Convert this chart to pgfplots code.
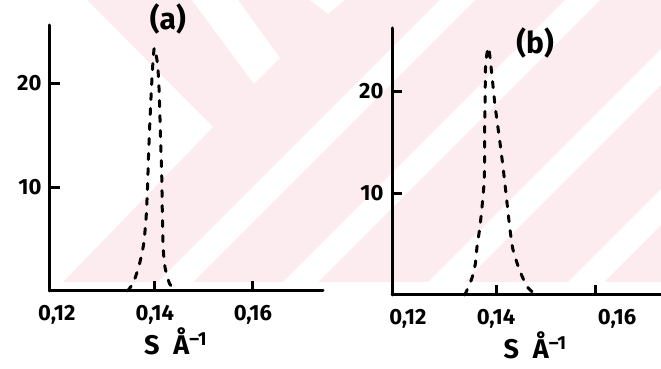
\documentclass[border=0pt]{standalone}
\usepackage{pgfplots}
\pgfplotsset{compat=1.18}
\usepackage{fontspec}
\setmainfont{Fira Sans}
\definecolor{wm}{RGB}{253,236,239}
\pgfplotsset{
  handplot/.style={
    scale only axis, clip=false,
    axis lines*=left,
    axis line style={line width=3pt, line cap=round, black},
    tick style={line width=3pt, black},
    major tick length=10pt, tick align=inside,
    scaled x ticks=false, scaled y ticks=false,
    ymin=0,
    ytick={10,20}, yticklabels={10,20},
    xtick={0.14,0.16},
    extra x ticks={0.12},
    extra x tick style={major tick length=0pt},
    ticklabel style={font=\bfseries\fontsize{22}{22}\selectfont},
    xticklabel style={yshift=-11pt},
    yticklabel style={xshift=-5pt},
    title style={anchor=center, font=\bfseries\fontsize{30}{30}\selectfont},
    xlabel style={anchor=center, font=\bfseries\fontsize{27}{27}\selectfont},
  },
  peak/.style={black, line width=3pt, line cap=round, dash pattern=on 6pt off 9pt, smooth, tension=0.4},
}
\begin{document}
\begin{tikzpicture}[x=1pt,y=1pt]
\useasboundingbox (0,0) rectangle (661,369);
% faint watermark of the scan
\begin{scope}[shift={(0pt,369pt)}, y=-1pt]
  \begin{scope}
    \clip (0,0) rectangle (661,282);
    \fill[wm] (0,0) rectangle (661,282);
    \fill[white] (0,0) -- (87,0) -- (213,127) -- (63,282) -- (0,282) -- cycle;
    \fill[white] (192,0) -- (238,0) -- (280,58) -- (254,84) -- cycle;
    \fill[white] (310,0) -- (345,0) -- (328,14) -- cycle;
    \fill[white] (440,0) -- (475,0) -- (193,282) -- (158,282) -- cycle;
    \fill[white] (565,0) -- (600,0) -- (318,282) -- (283,282) -- cycle;
    \fill[white] (710,0) -- (746,0) -- (464,282) -- (428,282) -- cycle;
    \fill[white] (850,0) -- (886,0) -- (604,282) -- (568,282) -- cycle;
  \end{scope}
\end{scope}

% panel (a)
\begin{axis}[handplot,
  at={(50pt,78pt)}, anchor=south west,
  width=273pt, height=266pt,
  xmin=0.1186, xmax=0.1743, ymax=25.6,
  xticklabels={0{,}14,0{,}16},
  extra x tick labels={0{,}12},
  title={(a)}, title style={at={(0.432,1.0)}},
  xlabel={S\hspace{14pt}Å\textsuperscript{–1}}, xlabel style={at={(0.46,-0.19)}},
]
\addplot[peak] coordinates {
  (0.1344,0) (0.1356,0.8) (0.1368,2.5) (0.1377,4.5) (0.1382,7) (0.1385,10)
  (0.1387,13) (0.1390,16.5) (0.1393,19.5) (0.1396,22) (0.1399,23.4)
  (0.1405,22) (0.1408,20) (0.1410,17.3) (0.1412,14) (0.1414,11) (0.1415,8)
  (0.1416,5.8) (0.1417,4) (0.1421,2.2) (0.1430,0.7) (0.1443,0)
};
\end{axis}

% panel (b)
\begin{axis}[handplot,
  at={(392pt,74pt)}, anchor=south west,
  width=269pt, height=267pt,
  xmin=0.119, xmax=0.1733, ymax=26.2,
  xticklabels={0{,}14,\hspace*{44pt}0{,}16},
  extra x tick labels={\hspace*{22pt}0{,}12},
  title={(b)}, title style={at={(0.532,0.92)}},
  xlabel={S\hspace{14pt}Å\textsuperscript{–1}}, xlabel style={at={(0.532,-0.19)}},
]
\addplot[peak] coordinates {
  (0.1337,0) (0.1351,1.6) (0.1358,3) (0.1362,4.9) (0.1367,6.5) (0.1372,8.8)
  (0.1376,11.1) (0.1377,13.3) (0.1377,15.8) (0.1378,19.2) (0.1379,22.6) (0.1385,24.3)
  (0.1392,21.4) (0.1398,18.6) (0.1407,15.3) (0.1413,13) (0.1418,10.9) (0.1422,9.1)
  (0.1428,6.5) (0.1434,4.5) (0.1447,2.5) (0.1463,0.8) (0.1481,0)
};
\end{axis}
\end{tikzpicture}
\end{document}
